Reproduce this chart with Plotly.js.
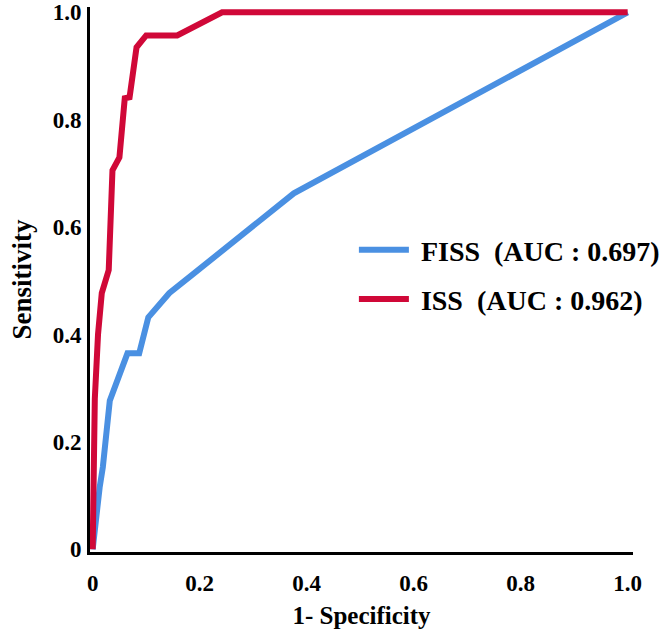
<!DOCTYPE html>
<html>
<head>
<meta charset="utf-8">
<script src="https://cdn.plot.ly/plotly-3.0.1.min.js"></script>
<style>html,body{margin:0;padding:0;background:#fff;}#chart{width:666px;height:640px;}</style>
</head>
<body>
<div id="chart"></div>
<script>
// ROC curve points (1 - Specificity, Sensitivity)
var fissX = [0, 0.007, 0.013, 0.019, 0.032, 0.065, 0.087, 0.104, 0.143, 0.187, 0.376, 1.0];
var fissY = [0, 0.067, 0.115, 0.153, 0.277, 0.365, 0.365, 0.432, 0.477, 0.512, 0.663, 1.0];
var issX = [0, 0.002, 0.004, 0.010, 0.017, 0.030, 0.035, 0.037, 0.050, 0.060, 0.069, 0.082, 0.100, 0.158, 0.242, 1.0];
var issY = [0, 0.20, 0.28, 0.40, 0.477, 0.52, 0.65, 0.706, 0.73, 0.84, 0.842, 0.935, 0.957, 0.957, 1.0, 1.0];
var seriesNames = ['\u00a0FISS\u00a0 (AUC : 0.697)', '\u00a0ISS\u00a0 (AUC : 0.962)'];
var tickVals = [0, 0.2, 0.4, 0.6, 0.8, 1.0];
var tickText = ['0', '0.2', '0.4', '0.6', '0.8', '1.0'];

var serif = '"Liberation Serif", "Times New Roman", serif';

var traces = [
  {x: fissX, y: fissY, type: 'scatter', mode: 'lines', name: seriesNames[0], legendgroup: 'a',
   line: {color: 'rgb(74,144,226)', width: 6}},
  {x: issX, y: issY, type: 'scatter', mode: 'lines', name: seriesNames[1], legendgroup: 'b',
   line: {color: 'rgb(208,8,56)', width: 6}}
];

var layout = {
  width: 666, height: 640,
  margin: {l: 90, r: 33, t: 7, b: 88, autoexpand: false},
  paper_bgcolor: '#fff', plot_bgcolor: '#fff',
  showlegend: true,
  legend: {x: 0.486, y: 0.6, xanchor: 'left', yanchor: 'top', bgcolor: 'rgba(0,0,0,0)',
           traceorder: 'grouped', tracegroupgap: 10, itemwidth: 50,
           font: {family: serif, size: 28, color: '#000', weight: 'bold'}},
  xaxis: {range: [-0.005, 1.01], tickvals: tickVals, ticktext: tickText, showgrid: false, zeroline: false,
          showline: true, linecolor: '#000', linewidth: 3, ticks: 'outside', ticklen: 8, tickcolor: 'rgba(0,0,0,0)',
          tickfont: {family: serif, size: 23, color: '#000', weight: 'bold'},
          title: {text: '1- Specificity', standoff: 12, font: {family: serif, size: 25, color: '#000', weight: 'bold'}}},
  yaxis: {range: [-0.005, 1.01], tickvals: tickVals, ticktext: tickText, showgrid: false, zeroline: false,
          showline: true, linecolor: '#000', linewidth: 3, ticks: 'outside', ticklen: 1, tickcolor: 'rgba(0,0,0,0)',
          tickfont: {family: serif, size: 23, color: '#000', weight: 'bold'},
          title: {text: 'Sensitivity', standoff: 14, font: {family: serif, size: 27, color: '#000', weight: 'bold'}}}
};

Plotly.newPlot('chart', traces, layout, {displayModeBar: false, staticPlot: true});
</script>
</body>
</html>
